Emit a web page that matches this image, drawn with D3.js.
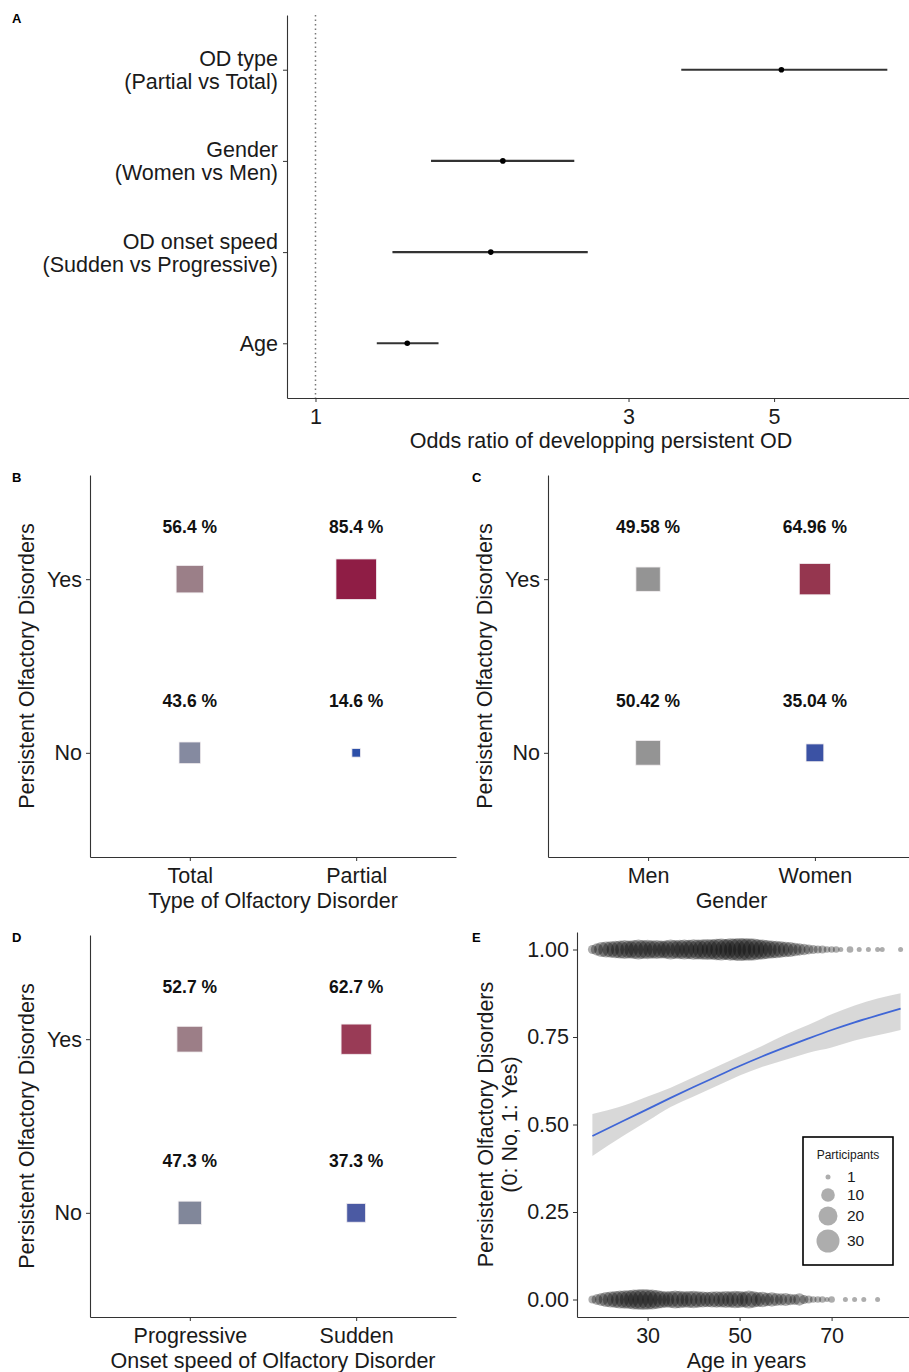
<!DOCTYPE html>
<html><head><meta charset="utf-8">
<script src="https://cdn.jsdelivr.net/npm/d3@7"></script>
<style>
body{margin:0;background:#fff;}
svg{display:block;font-family:"Liberation Sans",Arial,sans-serif;}
</style></head>
<body><svg id="chart" width="909" height="1372"></svg>
<script>
// ---------- Panel A data (forest plot) ----------
const forestVars = ["Age","OD onset speed\n(Sudden vs Progressive)","Gender\n(Women vs Men)","OD type\n(Partial vs Total)"];
const forestOR   = [1.38, 1.85, 1.93, 5.13];
const forestLow  = [1.24, 1.31, 1.50, 3.61];
const forestHigh = [1.54, 2.60, 2.48, 7.44];
const forestTicks = [1, 3, 5];

// ---------- Panels B, C, D data ----------
const outcomeCats = ["No","Yes"];
const typeCats = ["Total","Partial"];
const typeYes = [56.4, 85.4];
const typeNo  = [43.6, 14.6];
const typeColYes = ["#9b7f88","#8f1d45"];
const typeColNo  = ["#858aa0","#2c4fa8"];

const genderCats = ["Men","Women"];
const genderYes = [49.58, 64.96];
const genderNo  = [50.42, 35.04];
const genderColYes = ["#949494","#95364f"];
const genderColNo  = ["#949494","#3b52a4"];

const onsetCats = ["Progressive","Sudden"];
const onsetYes = [52.7, 62.7];
const onsetNo  = [47.3, 37.3];
const onsetColYes = ["#9c7e87","#993b56"];
const onsetColNo  = ["#81879a","#4b5aa3"];

// ---------- Panel E data ----------
const agesYes = [18,19,20,21,22,23,24,25,26,27,28,29,30,31,32,33,34,35,36,37,38,39,40,41,42,43,44,45,46,47,48,49,50,51,52,53,54,55,56,57,58,59,60,61,62,63,64,65,66,67,68,69,70,71,72,74,76,78,80,81,85];
const countsYes = [4,8,12,14,15,17,18,20,18,20,22,20,21,19,20,18,19,22,20,21,22,21,24,22,23,25,24,26,27,25,28,27,30,28,29,27,24,22,20,18,17,15,13,12,10,8,7,5,4,3,3,2,2,2,1,2,1,1,1,1,1];
const agesNo = [18,19,20,21,22,23,24,25,26,27,28,29,30,31,32,33,34,35,36,37,38,39,40,41,42,43,44,45,46,47,48,49,50,51,52,53,54,55,56,57,58,59,60,61,62,63,64,65,66,67,68,69,70,73,75,77,80];
const countsNo = [3,6,9,12,14,16,18,19,20,22,24,25,24,22,20,17,15,16,18,17,15,16,17,15,14,13,14,15,14,16,15,17,16,14,18,15,12,13,10,11,9,8,9,7,6,8,4,3,2,2,2,1,2,1,1,1,1];
const fitAges  = [18,25,30,35,40,45,50,55,60,65,70,75,80,85];
const fitProb  = [0.467,0.512,0.544,0.576,0.607,0.637,0.667,0.695,0.721,0.746,0.770,0.792,0.812,0.831];
const fitLow   = [0.41,0.47,0.51,0.55,0.58,0.61,0.64,0.665,0.685,0.705,0.72,0.74,0.755,0.77];
const fitHigh  = [0.53,0.555,0.58,0.605,0.635,0.665,0.695,0.725,0.757,0.785,0.815,0.84,0.86,0.875];
const eYTicks = [0, 0.25, 0.5, 0.75, 1];
const eXTicks = [30, 50, 70];
const legendSizes = [1, 10, 20, 30];

const svg = d3.select("#chart");
const AX = "#333";
const FS = 21.5;
const FF = "Liberation Sans, Arial, sans-serif";

function panelLabel(t, x, y){
  svg.append("text").attr("x",x).attr("y",y).attr("font-size",13).attr("font-weight","bold").text(t);
}

// ================= Panel A =================
(function(){
  const L=287, R=915, T=15, B=398;
  const x = d3.scaleLog().domain([Math.exp(-0.1), Math.exp(2.104)]).range([L,R]);
  const y = d3.scalePoint().domain(forestVars).range([B,T]).padding(0.6);
  const g = svg.append("g");
  panelLabel("A", 12, 23);
  g.append("line").attr("x1",x(1)).attr("x2",x(1)).attr("y1",T).attr("y2",B)
    .attr("stroke","#777").attr("stroke-width",1.5).attr("stroke-dasharray","1.5,3");
  const ax = g.append("g").attr("transform",`translate(0,${B})`)
    .call(d3.axisBottom(x).tickValues(forestTicks).tickFormat(d3.format("d")).tickSize(4).tickSizeOuter(0));
  const ay = g.append("g").attr("transform",`translate(${L},0)`)
    .call(d3.axisLeft(y).tickSize(4).tickSizeOuter(0).tickFormat(""));
  [ax,ay].forEach(a=>{a.select(".domain").attr("stroke",AX).attr("stroke-width",1.1);a.selectAll(".tick line").attr("stroke",AX);});
  ax.selectAll(".tick text").attr("font-size",FS).attr("fill","#1a1a1a").attr("dy","0.88em").attr("font-family",FF);
  ay.selectAll(".tick").each(function(d){
    const lines = d.split("\n");
    const t = d3.select(this).append("text").attr("x",-9).attr("text-anchor","end").attr("fill","#1a1a1a")
      .attr("font-size",FS).attr("font-family",FF);
    const lh = 23;
    const off = -(lines.length-1)*lh/2;
    lines.forEach((ln,i)=>t.append("tspan").attr("x",-9).attr("y",off+i*lh).attr("dy","0.35em").text(ln));
  });
  g.append("text").attr("x",(L+R)/2).attr("y",448).attr("text-anchor","middle").attr("font-size",FS).attr("fill","#1a1a1a")
    .text("Odds ratio of developping persistent OD");
  g.selectAll(".eb").data(forestVars).join("line")
    .attr("x1",(d,i)=>x(forestLow[i])).attr("x2",(d,i)=>x(forestHigh[i]))
    .attr("y1",d=>y(d)).attr("y2",d=>y(d)).attr("stroke","#333").attr("stroke-width",2.1);
  g.selectAll(".pt").data(forestVars).join("circle")
    .attr("cx",(d,i)=>x(forestOR[i])).attr("cy",d=>y(d)).attr("r",2.8).attr("fill","#000");
})();

// ================= Tile panels B, C, D =================
function tilePanel(o){
  const g = svg.append("g");
  const x = d3.scalePoint().domain(o.cats).range([o.L,o.R]).padding(0.6);
  const y = d3.scalePoint().domain(outcomeCats).range([o.B,o.T]).padding(0.6);
  const size = d3.scaleLinear().domain([0,100]).range([2,47]);
  const fmt = d3.format(o.fmt);
  panelLabel(o.label, o.labelX, o.T+7);
  const ax = g.append("g").attr("transform",`translate(0,${o.B})`).call(d3.axisBottom(x).tickSize(4).tickSizeOuter(0));
  const ay = g.append("g").attr("transform",`translate(${o.L},0)`).call(d3.axisLeft(y).tickSize(4).tickSizeOuter(0));
  [ax,ay].forEach(a=>{a.select(".domain").attr("stroke",AX).attr("stroke-width",1.1);a.selectAll(".tick line").attr("stroke",AX);
    a.selectAll(".tick text").attr("font-size",FS).attr("fill","#1a1a1a").attr("font-family",FF);});
  ax.selectAll(".tick text").attr("dy","0.88em");
  ay.selectAll(".tick text").attr("x",-8);
  g.append("text").attr("x",(o.L+o.R)/2).attr("y",o.B+51).attr("text-anchor","middle").attr("font-size",FS).attr("fill","#1a1a1a").text(o.xTitle);
  g.append("text").attr("transform",`translate(${o.L-56},${(o.T+o.B)/2}) rotate(-90)`).attr("text-anchor","middle")
    .attr("font-size",FS).attr("fill","#1a1a1a").text("Persistent Olfactory Disorders");
  const rows = [{k:"Yes",v:o.yes,c:o.colYes},{k:"No",v:o.no,c:o.colNo}];
  const step = y.step();
  rows.forEach(r=>{
    g.selectAll(null).data(o.cats).join("rect")
      .attr("x",(d,i)=>x(d)-size(r.v[i])/2).attr("y",(d,i)=>y(r.k)-size(r.v[i])/2)
      .attr("width",(d,i)=>size(r.v[i])).attr("height",(d,i)=>size(r.v[i]))
      .attr("fill",(d,i)=>r.c[i]).attr("stroke","#f2eef0").attr("stroke-width",0.8);
    g.selectAll(null).data(o.cats).join("text")
      .attr("x",d=>x(d)).attr("y",y(r.k)-0.3*step).attr("dy","0.35em").attr("text-anchor","middle")
      .attr("font-size",17.5).attr("font-weight","bold").attr("fill","#111")
      .text((d,i)=>fmt(r.v[i])+" %");
  });
}
tilePanel({label:"B",labelX:12,L:90,R:456,T:475,B:857,cats:typeCats,yes:typeYes,no:typeNo,colYes:typeColYes,colNo:typeColNo,fmt:".1f",xTitle:"Type of Olfactory Disorder"});
tilePanel({label:"C",labelX:472,L:548,R:915,T:475,B:857,cats:genderCats,yes:genderYes,no:genderNo,colYes:genderColYes,colNo:genderColNo,fmt:".2f",xTitle:"Gender"});
tilePanel({label:"D",labelX:12,L:90,R:456,T:935,B:1317,cats:onsetCats,yes:onsetYes,no:onsetNo,colYes:onsetColYes,colNo:onsetColNo,fmt:".1f",xTitle:"Onset speed of Olfactory Disorder"});

// ================= Panel E =================
(function(){
  const L=577, R=916, T=932, B=1317;
  const g = svg.append("g");
  panelLabel("E", 472, 942);
  const x = d3.scaleLinear().domain([14.65, 88.35]).range([L,R]);
  const y = d3.scaleLinear().domain([-0.05,1.05]).range([B,T]);
  const r = d3.scaleSqrt().domain([1,30]).range([2.5,11.5]);
  const idx = d3.range(fitAges.length);
  g.append("path").datum(idx).attr("fill","#cbcbcb").attr("fill-opacity",0.75)
    .attr("d", d3.area().x(i=>x(fitAges[i])).y0(i=>y(fitLow[i])).y1(i=>y(fitHigh[i])).curve(d3.curveMonotoneX));
  g.append("path").datum(idx).attr("fill","none").attr("stroke","#3f66d6").attr("stroke-width",1.8)
    .attr("d", d3.line().x(i=>x(fitAges[i])).y(i=>y(fitProb[i])).curve(d3.curveMonotoneX));
  g.selectAll(".py").data(agesYes).join("circle").attr("cx",d=>x(d)).attr("cy",y(1))
    .attr("r",(d,i)=>r(countsYes[i])).attr("fill","#000").attr("fill-opacity",0.32);
  g.selectAll(".pn").data(agesNo).join("circle").attr("cx",d=>x(d)).attr("cy",y(0))
    .attr("r",(d,i)=>r(countsNo[i])).attr("fill","#000").attr("fill-opacity",0.32);
  const ax = g.append("g").attr("transform",`translate(0,${B})`).call(d3.axisBottom(x).tickValues(eXTicks).tickSize(4).tickSizeOuter(0));
  const ay = g.append("g").attr("transform",`translate(${L},0)`).call(d3.axisLeft(y).tickValues(eYTicks).tickFormat(d3.format(".2f")).tickSize(4).tickSizeOuter(0));
  [ax,ay].forEach(a=>{a.select(".domain").attr("stroke",AX).attr("stroke-width",1.1);a.selectAll(".tick line").attr("stroke",AX);
    a.selectAll(".tick text").attr("font-size",FS).attr("fill","#1a1a1a").attr("font-family",FF);});
  ax.selectAll(".tick text").attr("dy","0.88em");
  ay.selectAll(".tick text").attr("x",-8);
  g.append("text").attr("x",(L+R)/2).attr("y",B+51).attr("text-anchor","middle").attr("font-size",FS).attr("fill","#1a1a1a").text("Age in years");
  g.append("text").attr("transform",`translate(${L-84},${(T+B)/2}) rotate(-90)`).attr("text-anchor","middle")
    .attr("font-size",FS).attr("fill","#1a1a1a").text("Persistent Olfactory Disorders");
  g.append("text").attr("transform",`translate(${L-60},${(T+B)/2}) rotate(-90)`).attr("text-anchor","middle")
    .attr("font-size",FS).attr("fill","#1a1a1a").text("(0: No, 1: Yes)");
  const lg = g.append("g");
  lg.append("rect").attr("x",803).attr("y",1137).attr("width",90).attr("height",128).attr("fill","#fff").attr("stroke","#000").attr("stroke-width",1.6);
  lg.append("text").attr("x",848).attr("y",1159).attr("text-anchor","middle").attr("font-size",12).attr("fill","#1a1a1a").text("Participants");
  const ly = [1177,1195,1216,1241];
  legendSizes.forEach((s,i)=>{
    lg.append("circle").attr("cx",828).attr("cy",ly[i]).attr("r",r(s)).attr("fill","#000").attr("fill-opacity",0.32);
    lg.append("text").attr("x",847).attr("y",ly[i]).attr("dy","0.35em").attr("font-size",15.5).attr("fill","#1a1a1a").text(s);
  });
})();
</script></body></html>
